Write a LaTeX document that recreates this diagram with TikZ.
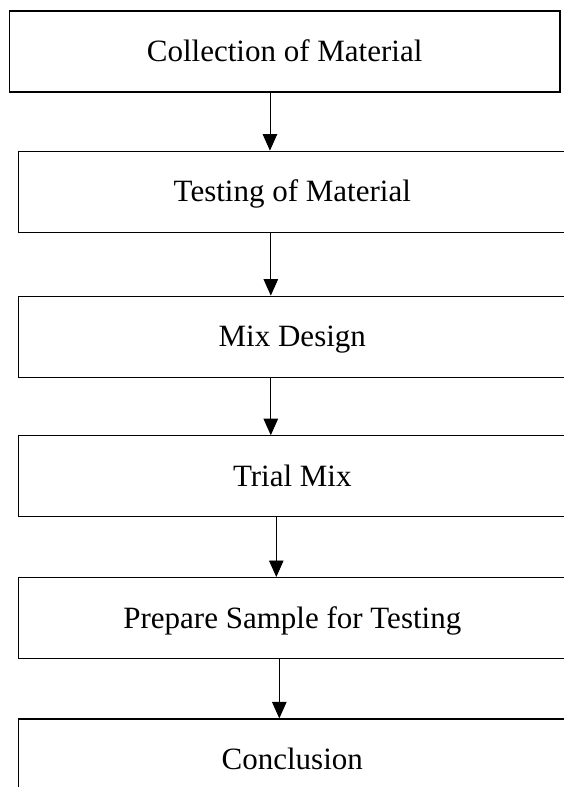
\documentclass[tikz,border=0pt]{standalone}
\usepackage{fontspec}
\setmainfont{Liberation Serif}
\usetikzlibrary{arrows.meta, positioning}
\tikzset{
  box/.style={rectangle, draw, line width=1.2pt, align=center,
    minimum width=548pt, minimum height=81pt, inner sep=0pt,
    text height=20.5pt, text depth=0pt, font=\fontsize{31}{37}\selectfont},
  line/.style={-{Triangle[length=16.5pt, width=14.5pt]}, line width=0.9pt}
}
\begin{document}
\begin{tikzpicture}[x=1pt, y=-1pt]
\useasboundingbox (0,0) rectangle (563,787);

% ---- cajas ----
\node[box, minimum width=550.7pt] (collect) at (284.65,51.5) {Collection of Material};
\node[box, below=58pt of collect, xshift=7.65pt] (testing) {Testing of Material};
\node[box, below=62.8pt of testing] (mixdesign) {Mix Design};
\node[box, below=57.4pt of mixdesign] (trialmix) {Trial Mix};
\node[box, below=59.6pt of trialmix] (sample) {Prepare Sample for Testing};
\node[box, below=59.2pt of sample] (concl) {Conclusion};

% ---- conexiones ----
\draw[line] ([xshift=-14.7pt]collect.south) -- ([xshift=-14.7pt]collect.south |- testing.north);
\draw[line] ([xshift=-21.5pt]testing.south) -- ([xshift=-21.5pt]mixdesign.north);
\draw[line] ([xshift=-21.5pt]mixdesign.south) -- ([xshift=-21.5pt]trialmix.north);
\draw[line] ([xshift=-16pt]trialmix.south) -- ([xshift=-16pt]sample.north);
\draw[line] ([xshift=-13pt]sample.south) -- ([xshift=-13pt]concl.north);

\end{tikzpicture}
\end{document}
